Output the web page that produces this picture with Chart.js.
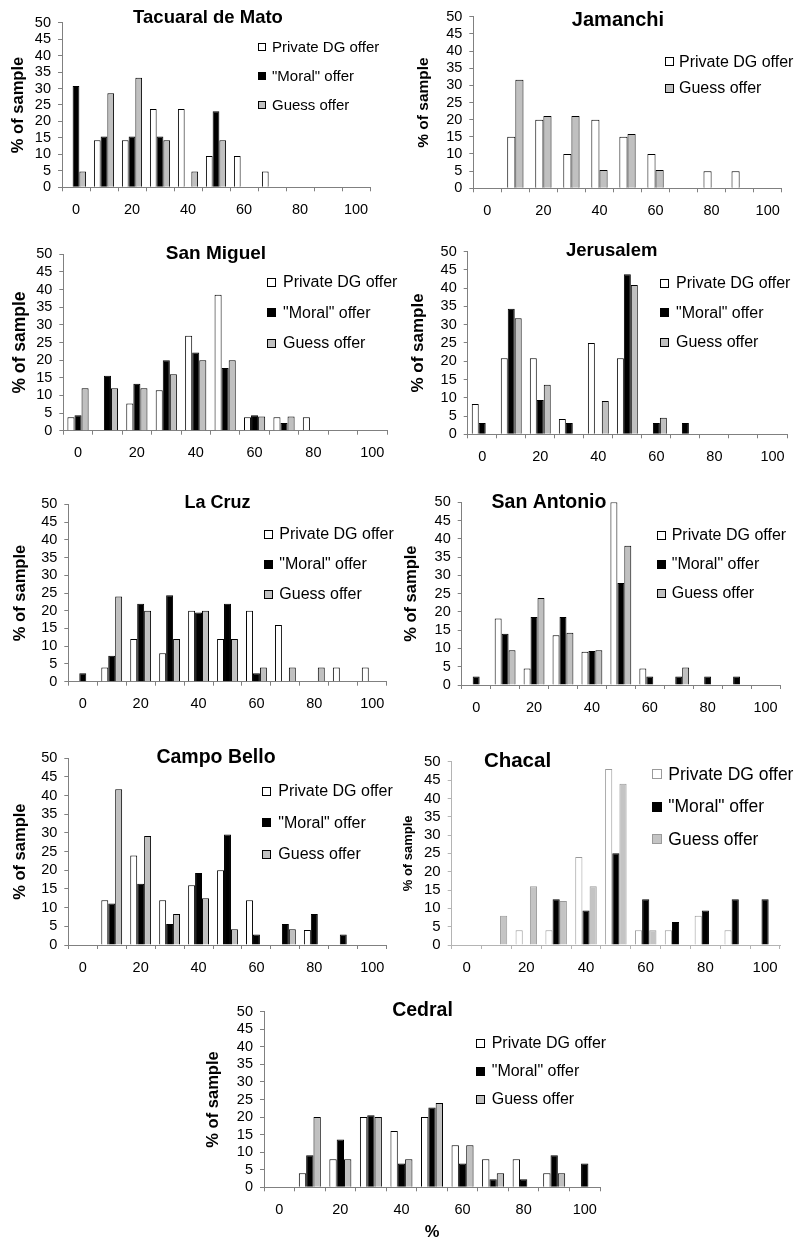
<!DOCTYPE html>
<html>
<head>
<meta charset="utf-8">
<script src="https://cdn.jsdelivr.net/npm/chart.js@4.4.0/dist/chart.umd.min.js"></script>
<style>
  html, body { margin: 0; padding: 0; background: #fff; }
  #page { position: relative; width: 800px; height: 1246px; overflow: hidden; }
  #page canvas { position: absolute; left: 0; top: 0; }
</style>
</head>
<body>
<div id="page"></div>
<script>
// offer categories (% of endowment) and the labels shown under the axis
const offers = [0, 10, 20, 30, 40, 50, 60, 70, 80, 90, 100];
const offerTickLabels = ['0', '', '20', '', '40', '', '60', '', '80', '', '100'];
const seriesNames = ['Private DG offer', '"Moral" offer', 'Guess offer'];

// % of sample per offer category
const tacuaralPrivate = [0, 14.3, 14.3, 23.8, 23.8, 9.5, 9.5, 4.8, 0, 0, 0];
const tacuaralMoral   = [30.8, 15.4, 15.4, 15.4, 0, 23.1, 0, 0, 0, 0, 0];
const tacuaralGuess   = [4.8, 28.6, 33.3, 14.3, 4.8, 14.3, 0, 0, 0, 0, 0];

const jamanchiPrivate = [0, 15, 20, 10, 20, 15, 10, 0, 5, 5, 0];
const jamanchiGuess   = [0, 31.6, 21.1, 21.1, 5.3, 15.8, 5.3, 0, 0, 0, 0];

const sanMiguelPrivate = [3.8, 0, 7.7, 11.5, 26.9, 38.5, 3.8, 3.8, 3.8, 0, 0];
const sanMiguelMoral   = [4.4, 15.6, 13.3, 20, 22.2, 17.8, 4.4, 2.2, 0, 0, 0];
const sanMiguelGuess   = [12, 12, 12, 16, 20, 20, 4, 4, 0, 0, 0];

const jerusalemPrivate = [8.3, 20.8, 20.8, 4.2, 25, 20.8, 0, 0, 0, 0, 0];
const jerusalemMoral   = [3.1, 34.4, 9.4, 3.1, 0, 43.8, 3.1, 3.1, 0, 0, 0];
const jerusalemGuess   = [0, 31.8, 13.6, 0, 9.1, 40.9, 4.5, 0, 0, 0, 0];

const laCruzPrivate = [0, 4, 12, 8, 20, 12, 20, 16, 0, 4, 4];
const laCruzMoral   = [2.4, 7.3, 22, 24.4, 19.5, 22, 2.4, 0, 0, 0, 0];
const laCruzGuess   = [0, 24, 20, 12, 20, 12, 4, 4, 4, 0, 0];

const sanAntonioPrivate = [0, 18.2, 4.5, 13.6, 9.1, 50, 4.5, 0, 0, 0, 0];
const sanAntonioMoral   = [2.3, 14, 18.6, 18.6, 9.3, 27.9, 2.3, 2.3, 2.3, 2.3, 0];
const sanAntonioGuess   = [0, 9.5, 23.8, 14.3, 9.5, 38.1, 0, 4.8, 0, 0, 0];

const campoBelloPrivate = [0, 12, 24, 12, 16, 20, 12, 0, 4, 0, 0];
const campoBelloMoral   = [0, 11.1, 16.4, 5.6, 19.3, 29.6, 2.8, 5.6, 8.3, 2.8, 0];
const campoBelloGuess   = [0, 41.7, 29.2, 8.3, 12.5, 4.2, 0, 4.2, 0, 0, 0];

const chacalPrivate = [0, 0, 4, 4, 24, 48, 4, 4, 8, 4, 0];
const chacalMoral   = [0, 0, 0, 12.5, 9.4, 25, 12.5, 6.3, 9.4, 12.5, 12.5];
const chacalGuess   = [0, 8, 16, 12, 16, 44, 4, 0, 0, 0, 0];

const cedralPrivate = [0, 4, 8, 20, 16, 20, 12, 8, 8, 4, 0];
const cedralMoral   = [0, 9.1, 13.6, 20.5, 6.8, 22.7, 6.8, 2.3, 2.3, 9.1, 6.8];
const cedralGuess   = [0, 20, 8, 20, 8, 24, 12, 4, 0, 4, 0];

const PAGE_W = 800, PAGE_H = 1246;
const Y_W = 50, X_H = 45; // fixed axis box sizes so plot areas land where they should
const FONT = '"Liberation Sans", Arial, Helvetica, sans-serif';

Chart.defaults.font.family = FONT;
Chart.defaults.color = '#000';

// plain style (black outlines) and the lighter Chacal style
const styles = {
  plain:  { fills: ['#ffffff', '#000000', '#c0c0c0'], borders: ['#000', '#000', '#000'], axis: '#808080' },
  light:  { fills: ['#ffffff', '#000000', '#c4c4c4'], borders: ['#9a9a9a', '#000', '#9a9a9a'], axis: '#b4b4b4' }
};

// layout of each panel: plot area edges (L,T,R,B), title, axis title and legend placement
const panels = [
  { title: 'Tacuaral de Mato', series: [[0, tacuaralPrivate], [1, tacuaralMoral], [2, tacuaralGuess]],
    L: 62, T: 22.7, R: 370, B: 187.3, tx: 208, ty: 17.5, ts: 18.5, yx: 18.5, ys: 16.5,
    boxX: 258, textX: 272, legY: 47.3, legGap: 29, legSize: 15, box: 8 },
  { title: 'Jamanchi', series: [[0, jamanchiPrivate], [2, jamanchiGuess]],
    L: 473.3, T: 16.7, R: 781.7, B: 188.3, tx: 618, ty: 20.8, ts: 20, yx: 423.7, ys: 15.5,
    boxX: 665, textX: 679, legY: 61.7, legGap: 26.6, legSize: 16, box: 9 },
  { title: 'San Miguel', series: [[0, sanMiguelPrivate], [1, sanMiguelMoral], [2, sanMiguelGuess]],
    L: 63.3, T: 254.3, R: 387, B: 430.7, tx: 216, ty: 253.3, ts: 19, yx: 20, ys: 17.5,
    boxX: 267, textX: 283, legY: 282.3, legGap: 30.5, legSize: 16, box: 9 },
  { title: 'Jerusalem', series: [[0, jerusalemPrivate], [1, jerusalemMoral], [2, jerusalemGuess]],
    L: 467.7, T: 251.7, R: 787, B: 434.3, tx: 611.7, ty: 251.2, ts: 18.5, yx: 418.3, ys: 17,
    boxX: 660, textX: 676, legY: 283.3, legGap: 29.5, legSize: 16, box: 9 },
  { title: 'La Cruz', series: [[0, laCruzPrivate], [1, laCruzMoral], [2, laCruzGuess]],
    L: 68.3, T: 504.3, R: 386.7, B: 681.7, tx: 217.5, ty: 503.3, ts: 18, yx: 20, ys: 16.5,
    boxX: 263.5, textX: 279.3, legY: 534, legGap: 30, legSize: 16, box: 9 },
  { title: 'San Antonio', series: [[0, sanAntonioPrivate], [1, sanAntonioMoral], [2, sanAntonioGuess]],
    L: 461.7, T: 502.3, R: 780, B: 685, tx: 549, ty: 502.2, ts: 19.5, yx: 411.7, ys: 16.5,
    boxX: 657, textX: 671.7, legY: 535, legGap: 29.2, legSize: 16, box: 9 },
  { title: 'Campo Bello', series: [[0, campoBelloPrivate], [1, campoBelloMoral], [2, campoBelloGuess]],
    L: 68.3, T: 758.3, R: 386.7, B: 945, tx: 216, ty: 757.2, ts: 19.5, yx: 20, ys: 16.5,
    boxX: 262, textX: 278.3, legY: 791, legGap: 31.7, legSize: 16, box: 9 },
  { title: 'Chacal', series: [[0, chacalPrivate], [1, chacalMoral], [2, chacalGuess]], look: 'light',
    L: 451.7, T: 761.7, R: 780, B: 945, tx: 517.5, ty: 761.3, ts: 20.5, yx: 408.3, ys: 13,
    boxX: 652, textX: 668.3, legY: 774.3, legGap: 32.5, legSize: 17.5, box: 10, tickSize: 15 },
  { title: 'Cedral', series: [[0, cedralPrivate], [1, cedralMoral], [2, cedralGuess]],
    L: 264, T: 1011.7, R: 600, B: 1187.3, tx: 422.5, ty: 1010.5, ts: 19.5, yx: 213.3, ys: 16.5,
    boxX: 476, textX: 491.7, legY: 1043.3, legGap: 28, legSize: 16, box: 9,
    xTitle: '%', xtx: 432, xty: 1232 }
];

// title, rotated y title, x title and the boxed legend, all drawn on the chart canvas
const decorations = {
  id: 'decorations',
  afterDraw(chart, args, o) {
    const ctx = chart.ctx;
    const area = chart.chartArea;
    ctx.save();
    ctx.fillStyle = '#000';
    ctx.textAlign = 'center';
    ctx.textBaseline = 'middle';
    ctx.font = `bold ${o.ts}px ${FONT}`;
    ctx.fillText(o.title, o.tx, o.ty);

    if (o.xTitle) {
      ctx.font = `bold ${o.ys}px ${FONT}`;
      ctx.fillText(o.xTitle, o.xtx, o.xty);
    }

    ctx.save();
    ctx.translate(o.yx, (area.top + area.bottom) / 2);
    ctx.rotate(-Math.PI / 2);
    ctx.font = `bold ${o.ys}px ${FONT}`;
    ctx.fillText('% of sample', 0, 0);
    ctx.restore();

    ctx.font = `${o.legSize}px ${FONT}`;
    ctx.textAlign = 'left';
    chart.data.datasets.forEach((ds, i) => {
      const y = o.legY + i * o.legGap;
      const top = Math.round(y - o.box / 2);
      const left = Math.round(o.boxX);
      ctx.fillStyle = ds.backgroundColor;
      ctx.fillRect(left, top, o.box, o.box);
      ctx.strokeStyle = ds.borderColor;
      ctx.lineWidth = 1;
      ctx.strokeRect(left + 0.5, top + 0.5, o.box - 1, o.box - 1);
      ctx.fillStyle = '#000';
      ctx.fillText(ds.label, o.textX, y + 0.5);
    });
    ctx.restore();
  }
};

const page = document.getElementById('page');

panels.forEach(p => {
  const look = styles[p.look || 'plain'];
  const canvas = document.createElement('canvas');
  canvas.width = PAGE_W;
  canvas.height = PAGE_H;
  page.appendChild(canvas);

  const tickSize = p.tickSize || 14.5;
  const n = p.series.length;

  new Chart(canvas.getContext('2d'), {
    type: 'bar',
    data: {
      labels: offers,
      datasets: p.series.map(([kind, values]) => ({
        label: seriesNames[kind],
        data: values,
        backgroundColor: look.fills[kind],
        borderColor: look.borders[kind],
        borderWidth: 1,
        borderSkipped: 'start',
        categoryPercentage: n === 3 ? 0.72 : 0.58,
        barPercentage: 1
      }))
    },
    options: {
      responsive: false,
      animation: false,
      devicePixelRatio: 1,
      events: [],
      layout: {
        padding: {
          left: p.L - Y_W,
          top: p.T,
          right: PAGE_W - p.R,
          bottom: PAGE_H - p.B - X_H
        }
      },
      plugins: {
        legend: { display: false },
        tooltip: { enabled: false },
        decorations: p
      },
      scales: {
        x: {
          type: 'category',
          offset: true,
          grid: { offset: true, drawOnChartArea: false, drawTicks: true, tickLength: 4, color: look.axis },
          border: { display: true, color: look.axis, width: 1 },
          ticks: {
            autoSkip: false,
            maxRotation: 0,
            padding: 10,
            color: '#000',
            font: { size: tickSize },
            callback: (value, index) => offerTickLabels[index]
          },
          afterFit: scale => { scale.height = X_H; }
        },
        y: {
          min: 0,
          max: 50,
          grid: { drawOnChartArea: false, drawTicks: true, tickLength: 4, color: look.axis },
          border: { display: true, color: look.axis, width: 1 },
          ticks: { stepSize: 5, autoSkip: false, padding: 7, color: '#000', font: { size: tickSize } },
          afterFit: scale => { scale.width = Y_W; }
        }
      }
    },
    plugins: [decorations]
  });
});
</script>
</body>
</html>
